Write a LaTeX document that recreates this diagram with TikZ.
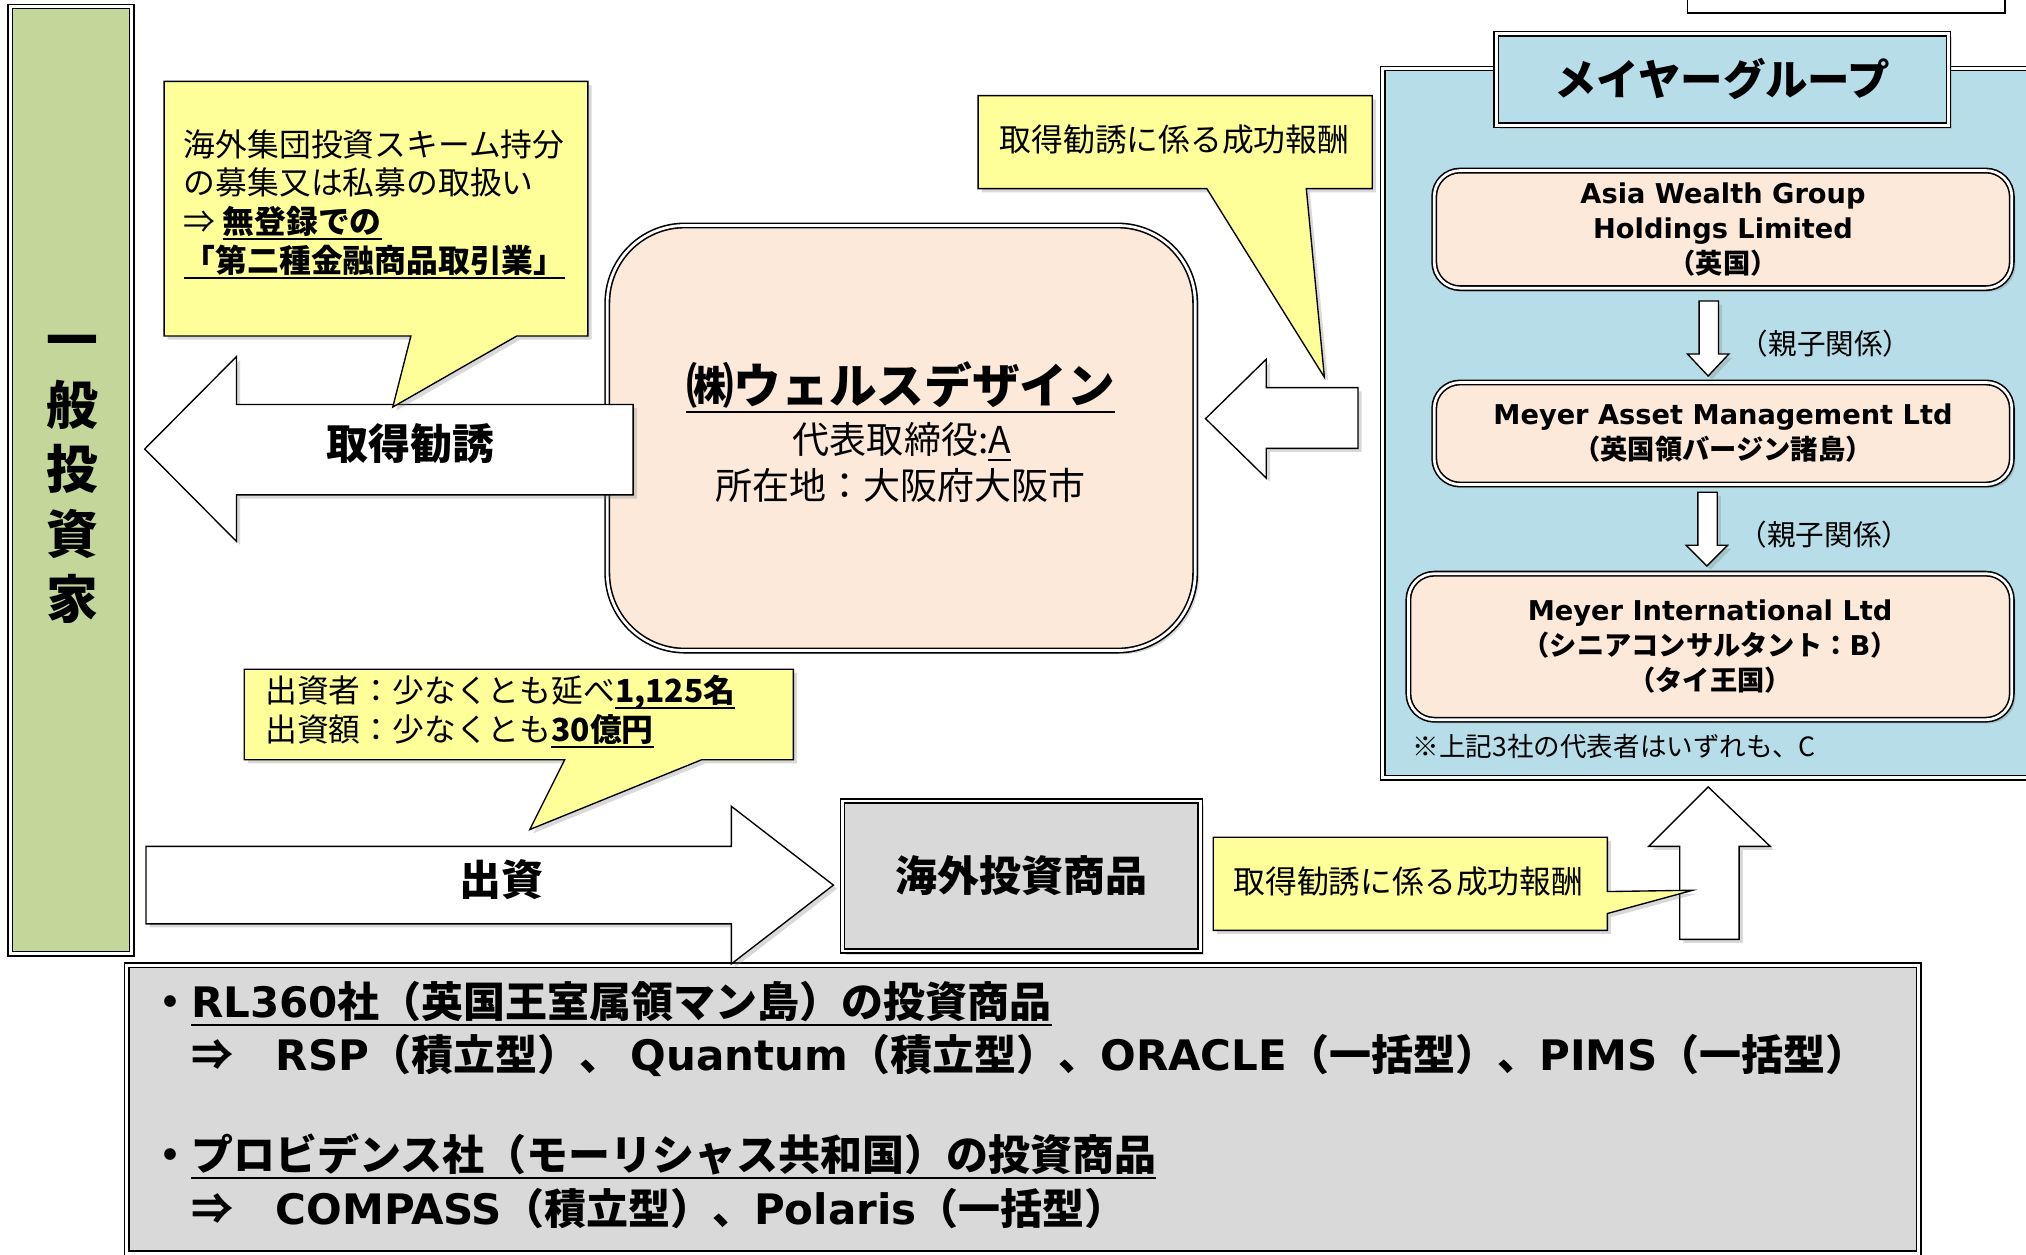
\documentclass[tikz,border=0pt]{standalone}
\usepackage{fontspec}
\setmainfont{Noto Sans CJK JP}
\newfontfamily\vfont{DejaVu Sans}
\newcommand{\uln}[1]{\setbox0=\hbox{#1}\rlap{\rule[-0.2em]{\wd0}{0.9pt}}\box0}
\usetikzlibrary{shadows}
\definecolor{greenbar}{HTML}{C4D79B}
\definecolor{peach}{HTML}{FCE9D9}
\definecolor{memoyellow}{HTML}{FFFF99}
\definecolor{groupblue}{HTML}{B7DEE8}
\definecolor{prodgray}{HTML}{D9D9D9}
\tikzset{
    dbl/.style = {draw=black, line width=0.7pt, double=white, double distance=1.2pt},
    shadowed/.style = {drop shadow={opacity=0.3, shadow xshift=1.6pt, shadow yshift=-1.6pt}},
    investor/.style = {rectangle, dbl, shadowed, fill=greenbar, minimum width=18.8mm, minimum height=146.6mm},
    firm/.style = {rectangle, rounded corners=12mm, dbl, shadowed, fill=peach, minimum width=91mm, minimum height=65.8mm},
    groupbox/.style = {rectangle, dbl, shadowed, fill=groupblue},
    company/.style = {rectangle, rounded corners=4mm, dbl, shadowed, fill=peach, align=center, inner sep=0pt, font=\fontsize{12}{15.4}\selectfont\bfseries},
    product/.style = {rectangle, dbl, shadowed, fill=prodgray},
    memo/.style = {draw=black, line width=0.6pt, fill=memoyellow, shadowed},
    blockarrow/.style = {draw=black, line width=0.6pt, fill=white, shadowed},
    memotext/.style = {inner sep=0pt, font=\fontsize{14}{17.1}\selectfont},
    arrowtext/.style = {inner sep=0pt, font=\fontsize{18.5}{20}\selectfont\bfseries},
    reltext/.style = {inner sep=0pt, font=\fontsize{12.6}{15}\selectfont},
    lineuptext/.style = {inner sep=0pt, anchor=west, font=\fontsize{18.5}{22}\selectfont\bfseries}
}

\begin{document}
\begin{tikzpicture}[x=0.2mm, y=-0.2mm]
\useasboundingbox (0,0) rectangle (1568,971);
%
% boxes
\node[investor] at (55,371.5) (inv) {};
\node[font=\fontsize{22.8}{28.5}\selectfont\bfseries, align=center, inner sep=0pt] at (56,371) (invtext) {一\\般\\投\\資\\家};
\node[draw=black, line width=0.8pt, fill=white, minimum width=49.2mm, minimum height=10mm] at (1429,-15) (topbox) {};
\node[groupbox, minimum width=106mm, minimum height=109.8mm] at (1335,327.5) (grp) {};
\node[groupbox, minimum width=70mm, minimum height=14.2mm, font=\fontsize{18.7}{20}\selectfont\bfseries] at (1333,61.5) (grptitle) {メイヤーグループ};
\node[company, minimum width=89.4mm, minimum height=18.2mm] at (1333.5,177.5) (awg) {{\vfont Asia Wealth Group}\\{\vfont Holdings Limited}\\（英国）};
\node[company, minimum width=89.4mm, minimum height=15.8mm] at (1333.5,335.5) (mam) {{\vfont Meyer Asset Management Ltd}\\（英国領バージン諸島）};
\node[company, minimum width=93.4mm, minimum height=22.6mm] at (1323.5,500.5) (mil) {{\vfont Meyer International Ltd}\\（シニアコンサルタント：{\vfont B}）\\（タイ王国）};
\node[anchor=west, inner sep=0pt, font=\fontsize{11.7}{14}\selectfont] at (1093,578) (note) {※上記3社の代表者はいずれも、C};
\node[firm] at (697.5,339) (firm) {};
\node[inner sep=0pt, font=\fontsize{21}{24}\selectfont\bfseries] at (697,300) (firmname) {\uln{㈱ウェルスデザイン}};
\node[inner sep=0pt, font=\fontsize{16.3}{19}\selectfont] at (698,342) (firmrep) {代表取締役:\uln{A}};
\node[inner sep=0pt, font=\fontsize{16.3}{19}\selectfont] at (697,376) (firmaddr) {所在地：大阪府大阪市};
\node[product, minimum width=55.4mm, minimum height=23.2mm, font=\fontsize{18.5}{20}\selectfont\bfseries] at (790.5,678) (prod) {海外投資商品};
\node[product, minimum width=277.4mm, minimum height=44.6mm] at (791.5,858.5) (lineup) {};
\node[lineuptext] at (115,777) (rl) {・\uln{{\vfont RL360}社（英国王室属領マン島）の投資商品}};
\node[lineuptext] at (148,817) (rlprod) {⇒　{\vfont RSP}（積立型）、 {\vfont Quantum}（積立型）、{\vfont ORACLE}（一括型）、{\vfont PIMS}（一括型）};
\node[lineuptext] at (115,895) (pv) {・\uln{プロビデンス社（モーリシャス共和国）の投資商品}};
\node[lineuptext] at (148,935) (pvprod) {⇒　{\vfont COMPASS}（積立型）、{\vfont Polaris}（一括型）};
%
% block arrows
\draw[blockarrow] (490,313) -- (183,313) -- (183,276) -- (112,347.5) -- (183,419) -- (183,383) -- (490,383) -- cycle;
\node[arrowtext] at (318,343) (solicit) {取得勧誘};
\draw[blockarrow] (1051,300) -- (980,300) -- (980,278) -- (933,324) -- (980,370) -- (980,347) -- (1051,347) -- cycle;
\draw[blockarrow] (113,655) -- (566,655) -- (566,624) -- (645,685) -- (566,746) -- (566,715) -- (113,715) -- cycle;
\node[arrowtext] at (388,681) (fund) {出資};
\draw[blockarrow] (1300,727) -- (1300,655) -- (1276,655) -- (1322,609) -- (1370,655) -- (1346,655) -- (1346,727) -- cycle;
\draw[blockarrow] (1315,233) -- (1330,233) -- (1330,274) -- (1338,274) -- (1322,291) -- (1306,274) -- (1315,274) -- cycle;
\draw[blockarrow] (1314,381) -- (1329,381) -- (1329,422) -- (1337,422) -- (1321,438) -- (1305,422) -- (1314,422) -- cycle;
\node[reltext] at (1413,266) (rel1) {（親子関係）};
\node[reltext] at (1412,414) (rel2) {（親子関係）};
%
% callouts
\draw[memo] (127,63) -- (455,63) -- (455,260) -- (400,260) -- (304,315) -- (318,260) -- (127,260) -- cycle;
\node[memotext, anchor=west, align=left] at (142,158) (scheme) {海外集団投資スキーム持分\\の募集又は私募の取扱い\\⇒ \textbf{\uln{無登録での}}\\\textbf{\uln{「第二種金融商品取引業」}}};
\draw[memo] (757,74) -- (1062,74) -- (1062,146) -- (1011,146) -- (1025,292) -- (934,146) -- (757,146) -- cycle;
\node[memotext] at (909,108) (fee1) {取得勧誘に係る成功報酬};
\draw[memo] (189,518) -- (614,518) -- (614,588) -- (543,588) -- (410,642) -- (437,588) -- (189,588) -- cycle;
\node[memotext, anchor=west, align=left] at (205,550.5) (invest) {出資者：少なくとも延べ\textbf{\uln{1,125名}}\\出資額：少なくとも\textbf{\uln{30億円}}};
\draw[memo] (939,648) -- (1244,648) -- (1244,690) -- (1310,689) -- (1244,707) -- (1244,720) -- (939,720) -- cycle;
\node[memotext] at (1090,682) (fee2) {取得勧誘に係る成功報酬};
\end{tikzpicture}
\end{document}
